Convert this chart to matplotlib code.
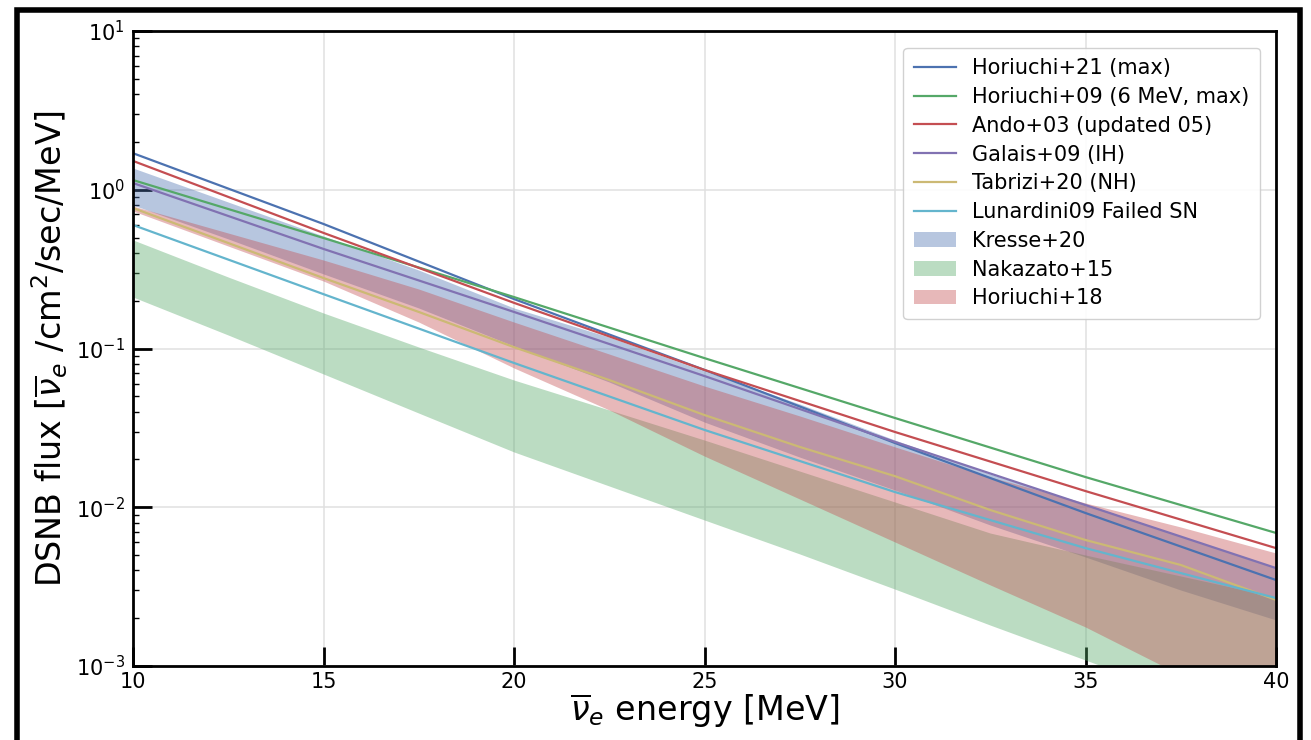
import numpy as np
import matplotlib.pyplot as plt
from matplotlib.patches import Rectangle

# energies [MeV]
e_lines = np.array([10, 15, 20, 25, 30, 35, 40])
e_fine = np.array([10, 12.5, 15, 17.5, 20, 22.5, 25, 27.5, 30, 32.5, 35, 37.5, 40])

# model curves (flux /cm^2/sec/MeV)
horiuchi21 = [1.70, 0.609, 0.205, 0.0733, 0.0254, 0.0092, 0.00348]
horiuchi09 = [1.152, 0.497, 0.211, 0.0870, 0.0365, 0.0155, 0.00689]
ando03 = [1.52, 0.535, 0.194, 0.0733, 0.0298, 0.01265, 0.00553]
galais09 = [1.103, 0.424, 0.170, 0.0671, 0.0258, 0.01033, 0.00414]
lunardini09 = [0.600, 0.220, 0.0811, 0.0307, 0.01247, 0.00553, 0.00268]
tabrizi20 = [0.767, 0.462, 0.278, 0.170, 0.102, 0.0633, 0.0381, 0.0240,
             0.0157, 0.00961, 0.00622, 0.00433, 0.00261]

# bands (upper, lower)
kresse_hi = [1.371, 0.837, 0.511, 0.312, 0.180, 0.118, 0.0722, 0.0447,
             0.0265, 0.0162, 0.01048, 0.00659, 0.00414]
kresse_lo = [0.802, 0.490, 0.295, 0.180, 0.1037, 0.0615, 0.0344, 0.0207,
             0.01284, 0.00773, 0.00486, 0.00301, 0.00195]
nakazato_hi = [0.483, 0.282, 0.1674, 0.1022, 0.0633, 0.0410, 0.0265, 0.0169,
               0.01079, 0.00688, 0.00500, 0.00369, 0.00272]
nakazato_lo = [0.211, 0.1216, 0.0691, 0.0392, 0.0223, 0.01361, 0.00831, 0.00508,
               0.00305, 0.00181, 0.00109, 0.000657, 0.000395]
horiuchi18_hi = [0.790, 0.534, 0.361, 0.237, 0.1468, 0.0923, 0.0580, 0.0376,
                 0.0240, 0.0155, 0.01064, 0.00751, 0.00515]
horiuchi18_lo = [0.735, 0.442, 0.266, 0.1468, 0.0754, 0.0410, 0.0210, 0.01127,
                 0.00604, 0.00324, 0.00176, 0.000878, 0.000457]

colors = {'blue': '#4C72B0', 'green': '#55A868', 'red': '#C44E52',
          'purple': '#8172B2', 'yellow': '#CCB974', 'cyan': '#64B5CD'}

fig = plt.figure(figsize=(13.11, 7.40), dpi=100)
ax = fig.add_axes([0.1015, 0.1, 0.8718, 0.858])

ax.plot(e_lines, horiuchi21, color=colors['blue'], lw=1.6, label='Horiuchi+21 (max)')
ax.plot(e_lines, horiuchi09, color=colors['green'], lw=1.6, label='Horiuchi+09 (6 MeV, max)')
ax.plot(e_lines, ando03, color=colors['red'], lw=1.6, label='Ando+03 (updated 05)')
ax.plot(e_lines, galais09, color=colors['purple'], lw=1.6, label='Galais+09 (IH)')
ax.plot(e_fine, tabrizi20, color=colors['yellow'], lw=1.6, label='Tabrizi+20 (NH)')
ax.plot(e_lines, lunardini09, color=colors['cyan'], lw=1.6, label='Lunardini09 Failed SN')

ax.fill_between(e_fine, kresse_lo, kresse_hi, color=colors['blue'], alpha=0.4,
                lw=0, label='Kresse+20')
ax.fill_between(e_fine, nakazato_lo, nakazato_hi, color=colors['green'], alpha=0.4,
                lw=0, label='Nakazato+15')
ax.fill_between(e_fine, horiuchi18_lo, horiuchi18_hi, color=colors['red'], alpha=0.4,
                lw=0, label='Horiuchi+18')

ax.set_yscale('log')
ax.set_xlim(10, 40)
ax.set_ylim(1e-3, 1e1)
ax.grid(True, which='major', color='#e0e0e0', lw=1.1)
ax.set_axisbelow(True)
for s in ax.spines.values():
    s.set_linewidth(2)
    s.set_color('black')
ax.tick_params(which='major', direction='in', length=14, width=2, labelsize=15,
               top=False, right=False)
ax.tick_params(which='minor', direction='in', length=4, width=1, top=False, right=False)
ax.tick_params(axis='x', which='major', pad=4)
ax.tick_params(axis='y', which='major', pad=6)

ax.set_xlabel(r'$\overline{\nu}_e$ energy [MeV]', fontsize=24, labelpad=0)
ax.set_ylabel(r'DSNB flux [$\overline{\nu}_e$ /cm$^2$/sec/MeV]', fontsize=24, labelpad=4)

leg = ax.legend(loc='upper right', fontsize=15, frameon=True, fancybox=True,
                handlelength=2.0, labelspacing=0.42, borderpad=0.5,
                bbox_to_anchor=(0.995, 0.99))
leg.get_frame().set_edgecolor('#cccccc')
leg.get_frame().set_alpha(0.9)

# black frame around the figure
fig.add_artist(Rectangle((17 / 1311, -0.05), (1300 - 17) / 1311, 1 - 10 / 740 + 0.05,
                         transform=fig.transFigure, fill=False, lw=4, ec='black'))

fig.savefig('out.png', dpi=100)
